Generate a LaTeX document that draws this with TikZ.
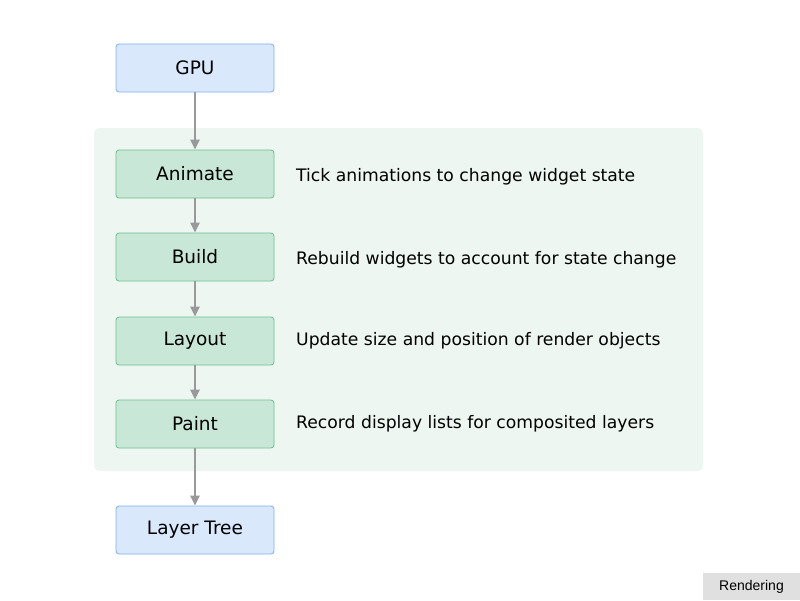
\documentclass[tikz,border=0pt]{standalone}
\usepackage{fontspec}
\setmainfont{DejaVu Sans}
\newfontfamily\tagfont{Liberation Sans}
\usetikzlibrary{arrows.meta}
\definecolor{bluefill}{HTML}{DAE8FC}
\definecolor{bluedraw}{HTML}{7EB0F0}
\definecolor{greenfill}{HTML}{C9E7D7}
\definecolor{greendraw}{HTML}{6BC08E}
\definecolor{bgfill}{HTML}{EDF6F0}
\definecolor{arrowgray}{HTML}{999999}
\definecolor{tagfill}{HTML}{E0E0E0}
\begin{document}
\begin{tikzpicture}[x=1pt,y=-1pt,
  stage/.style={draw=greendraw, fill=greenfill, rounded corners=3pt, line width=0.8pt,
    minimum width=158pt, minimum height=48pt, inner sep=0pt, font=\fontsize{18.5}{22}\selectfont},
  ends/.style={stage, draw=bluedraw, fill=bluefill},
  desc/.style={anchor=west, inner sep=0pt, font=\fontsize{17.2}{21}\selectfont},
  flow/.style={draw=arrowgray, line width=2.5pt, -{Triangle[width=9pt,length=10pt]}}]
\useasboundingbox (0,0) rectangle (800,600);
\fill[white] (0,0) rectangle (800,600);
\node[fill=bgfill, rounded corners=6pt, minimum width=609pt, minimum height=343pt, inner sep=0pt] (bg) at (398.5,299.5) {};
\node[ends] (gpu) at (195,68) {GPU};
\node[stage] (animate) at (195,174) {Animate};
\node[stage] (build) at (195,257) {Build};
\node[stage] (layout) at (195,341) {Layout};
\node[stage] (paint) at (195,424) {Paint};
\node[ends] (tree) at (195,530) {Layer Tree};
\node[desc] (d1) at (296,177) {Tick animations to change widget state};
\node[desc] (d2) at (296,260) {Rebuild widgets to account for state change};
\node[desc] (d3) at (296,341) {Update size and position of render objects};
\node[desc] (d4) at (296,424) {Record display lists for composited layers};
\node[fill=tagfill, minimum width=97pt, minimum height=27pt, inner sep=0pt, font=\tagfont\fontsize{14}{16}\selectfont] (tag) at (751.5,586.5) {Rendering};
\draw[flow] (gpu) -- (animate);
\draw[flow] (animate) -- (build);
\draw[flow] (build) -- (layout);
\draw[flow] (layout) -- (paint);
\draw[flow] (paint) -- (tree);
\end{tikzpicture}
\end{document}
